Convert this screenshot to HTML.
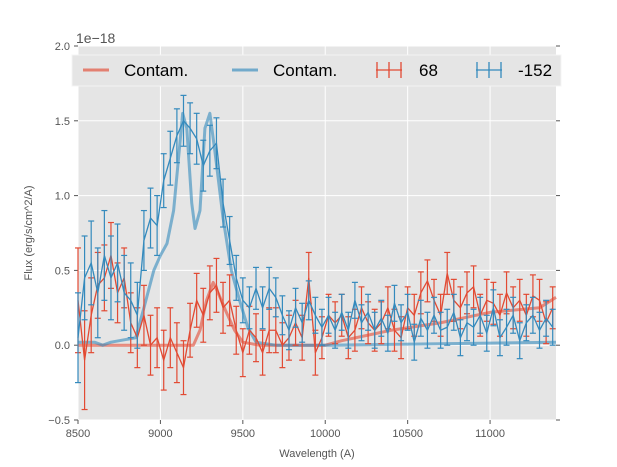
<!DOCTYPE html>
<html><head><meta charset="utf-8"><style>
html,body{margin:0;padding:0;background:#fff;}
svg{display:block;font-family:"Liberation Sans",sans-serif;}
</style></head><body>
<svg id="chart" width="617" height="467" viewBox="0 0 617 467" xmlns="http://www.w3.org/2000/svg">
<rect x="78" y="46" width="478" height="374" fill="#e5e5e5"/>
<g id="grid"></g>
<g id="ticks"></g>
<g id="series"></g>
<text x="76" y="43" font-size="14" fill="#555">1e−18</text>
<text x="317" y="457" font-size="11" fill="#555" text-anchor="middle">Wavelength (A)</text>
<text x="32" y="233" font-size="11" fill="#555" text-anchor="middle" transform="rotate(-90 32 233)">Flux (erg/s/cm^2/A)</text>
<g>
<rect x="72" y="55" width="489" height="31" fill="#e5e5e5" stroke="#f4f4f4" stroke-width="1"/>
<g>
<line x1="83" y1="70" x2="109" y2="70" stroke="#e24a33" stroke-opacity="0.65" stroke-width="3"/>
<text x="124" y="76" font-size="17" fill="#000">Contam.</text></g>
<g>
<line x1="232" y1="70" x2="258" y2="70" stroke="#348abd" stroke-opacity="0.65" stroke-width="3"/>
<text x="273" y="76" font-size="17" fill="#000">Contam.</text></g>
<g>
<line x1="376" y1="70" x2="402" y2="70" stroke="#e24a33" stroke-width="1.3"/>
<line x1="377" y1="62" x2="377" y2="78" stroke="#e24a33" stroke-width="1.3"/>
<line x1="401" y1="62" x2="401" y2="78" stroke="#e24a33" stroke-width="1.3"/>
<line x1="389" y1="62" x2="389" y2="78" stroke="#e24a33" stroke-width="1.3"/>
<text x="419" y="76" font-size="17" fill="#000">68</text></g>
<g>
<line x1="476" y1="70" x2="502" y2="70" stroke="#348abd" stroke-width="1.3"/>
<line x1="477" y1="62" x2="477" y2="78" stroke="#348abd" stroke-width="1.3"/>
<line x1="501" y1="62" x2="501" y2="78" stroke="#348abd" stroke-width="1.3"/>
<line x1="489" y1="62" x2="489" y2="78" stroke="#348abd" stroke-width="1.3"/>
<text x="518" y="76" font-size="17" fill="#000">-152</text></g>
</g>
</svg>
<script>
const xTicks=[8500,9000,9500,10000,10500,11000];
const yTicks=[-0.5,0.0,0.5,1.0,1.5,2.0];
const yTickLabels=["−0.5","0.0","0.5","1.0","1.5","2.0"];
const wlStart=8500, wlStep=40;
const blueFlux=[0.05,0.45,0.55,0.35,0.6,0.45,0.55,0.35,0.3,0.2,0.7,0.85,0.8,1.1,1.25,1.4,1.5,1.45,1.38,1.2,1.3,1.35,0.95,0.7,0.45,0.3,0.25,0.38,0.25,0.38,0.32,0.2,0.1,0.25,0.15,0.3,0.2,0.12,0.2,0.1,0.22,0.1,0.3,0.15,0.22,0.1,0.18,0.08,0.28,0.15,0.22,0.02,0.18,0.1,0.2,0.1,0.12,0.22,0.05,0.15,0.12,0.2,0.08,0.25,0.05,0.12,0.2,0.03,0.15,0.2,0.1,0.18,0.12];
const blueErr=[0.3,0.28,0.28,0.3,0.3,0.28,0.26,0.25,0.25,0.22,0.2,0.2,0.2,0.18,0.18,0.18,0.17,0.17,0.17,0.17,0.17,0.17,0.16,0.16,0.15,0.15,0.14,0.14,0.14,0.14,0.13,0.13,0.13,0.13,0.13,0.13,0.12,0.12,0.12,0.12,0.12,0.12,0.12,0.12,0.12,0.12,0.12,0.12,0.12,0.12,0.12,0.12,0.12,0.12,0.12,0.12,0.12,0.12,0.12,0.12,0.12,0.12,0.12,0.12,0.12,0.12,0.12,0.12,0.12,0.12,0.12,0.12,0.12];
const redFlux=[0.3,-0.1,0.2,0.4,0.45,0.6,0.35,0.45,0.15,0.05,0.2,0.0,0.05,-0.1,0.05,-0.05,-0.15,0.1,0.3,0.2,0.35,0.4,0.25,0.3,0.1,-0.05,0.1,0.05,-0.05,0.1,0.1,0.0,0.05,0.15,0.05,0.45,-0.05,0.05,0.2,0.15,0.2,0.05,0.1,0.25,0.15,0.1,0.15,0.25,0.1,0.05,0.25,0.2,0.35,0.43,0.3,0.2,0.48,0.3,0.25,0.35,0.39,0.2,0.3,0.28,0.2,0.35,0.25,0.3,0.2,0.33,0.3,0.15,0.25];
const redErr=[0.35,0.33,0.25,0.22,0.22,0.22,0.2,0.2,0.2,0.2,0.2,0.2,0.2,0.2,0.2,0.2,0.18,0.18,0.18,0.18,0.18,0.18,0.17,0.17,0.16,0.16,0.16,0.16,0.15,0.15,0.15,0.15,0.15,0.15,0.15,0.17,0.15,0.14,0.14,0.14,0.14,0.14,0.14,0.14,0.14,0.14,0.14,0.14,0.14,0.14,0.14,0.14,0.14,0.14,0.14,0.14,0.14,0.14,0.14,0.14,0.14,0.14,0.14,0.14,0.14,0.14,0.14,0.14,0.14,0.14,0.14,0.14,0.14];
const blueModelWl=[8500,8600,8650,8700,8850,8900,8960,9000,9040,9080,9110,9135,9160,9190,9210,9240,9270,9300,9330,9380,9430,9480,9530,9580,9700,10000,11400];
const blueModel=[0.02,0.02,0.0,0.02,0.05,0.25,0.5,0.6,0.68,0.9,1.25,1.55,1.45,0.95,0.78,0.9,1.45,1.55,1.3,0.85,0.5,0.3,0.12,0.02,0.0,0.0,0.02];
const redModelWl=[8500,9200,9240,9280,9320,9350,9400,9450,9500,9600,10000,10100,10400,10700,11000,11300,11400];
const redModel=[0,0,0.1,0.3,0.42,0.35,0.22,0.1,0.02,0,0,0.03,0.1,0.15,0.22,0.25,0.32];

const X0=78,X1=556,Y0=46,Y1=420,WMIN=8500,WMAX=11400,VMIN=-0.5,VMAX=2.0;
const xs=w=>X0+(w-WMIN)/(WMAX-WMIN)*(X1-X0);
const ys=v=>Y1-(v-VMIN)/(VMAX-VMIN)*(Y1-Y0);
const NS="http://www.w3.org/2000/svg";
function mk(tag,attrs,parent){const e=document.createElementNS(NS,tag);for(const k in attrs)e.setAttribute(k,attrs[k]);parent.appendChild(e);return e;}
const grid=document.getElementById('grid'),ticks=document.getElementById('ticks'),series=document.getElementById('series');
xTicks.forEach(t=>{const x=xs(t);
 const g=mk('line',{x1:x,y1:Y0,x2:x,y2:Y1,stroke:'#fff','stroke-width':1},grid);
 
 
 mk('line',{x1:x,y1:Y1,x2:x,y2:Y1+4,stroke:'#555'},ticks);
 const l=mk('text',{x:x,y:Y1+17,'font-size':11,fill:'#555','text-anchor':'middle'},ticks);l.textContent=t;
 
 });
yTicks.forEach((t,i)=>{const y=ys(t);
 const g=mk('line',{x1:X0,y1:y,x2:X1,y2:y,stroke:'#fff','stroke-width':1},grid);
 
 
 mk('line',{x1:X0-4,y1:y,x2:X0,y2:y,stroke:'#555'},ticks);
 mk('line',{x1:X1,y1:y,x2:X1+4,y2:y,stroke:'#555'},ticks);
 const l=mk('text',{x:X0-8,y:y+4,'font-size':11,fill:'#555','text-anchor':'end'},ticks);l.textContent=yTickLabels[i];
 
 });
function modelLine(wl,v,color,name){
 const p=mk('polyline',{points:wl.map((w,i)=>xs(w)+','+ys(v[i])).join(' '),fill:'none',stroke:color,'stroke-opacity':0.6,'stroke-width':3,'stroke-linejoin':'round'},series);
 
 }
function errSeries(flux,err,color,name){
 const g=mk('g',{},series);
 
 
 flux.forEach((v,i)=>{const x=xs(wlStart+i*wlStep),a=ys(v+err[i]),b=ys(v-err[i]);
  mk('line',{x1:x,y1:a,x2:x,y2:b,stroke:color,'stroke-width':1.2},g);
  mk('line',{x1:x-3,y1:a,x2:x+3,y2:a,stroke:color,'stroke-width':1.2},g);
  mk('line',{x1:x-3,y1:b,x2:x+3,y2:b,stroke:color,'stroke-width':1.2},g);});
 mk('polyline',{points:flux.map((v,i)=>xs(wlStart+i*wlStep)+','+ys(v)).join(' '),fill:'none',stroke:color,'stroke-width':1.3},g);}
modelLine(redModelWl,redModel,'#e24a33','contam-68-line');
modelLine(blueModelWl,blueModel,'#348abd','contam-152-line');
errSeries(redFlux,redErr,'#e24a33','series-68');
errSeries(blueFlux,blueErr,'#348abd','series-152');
</script>
</body></html>
